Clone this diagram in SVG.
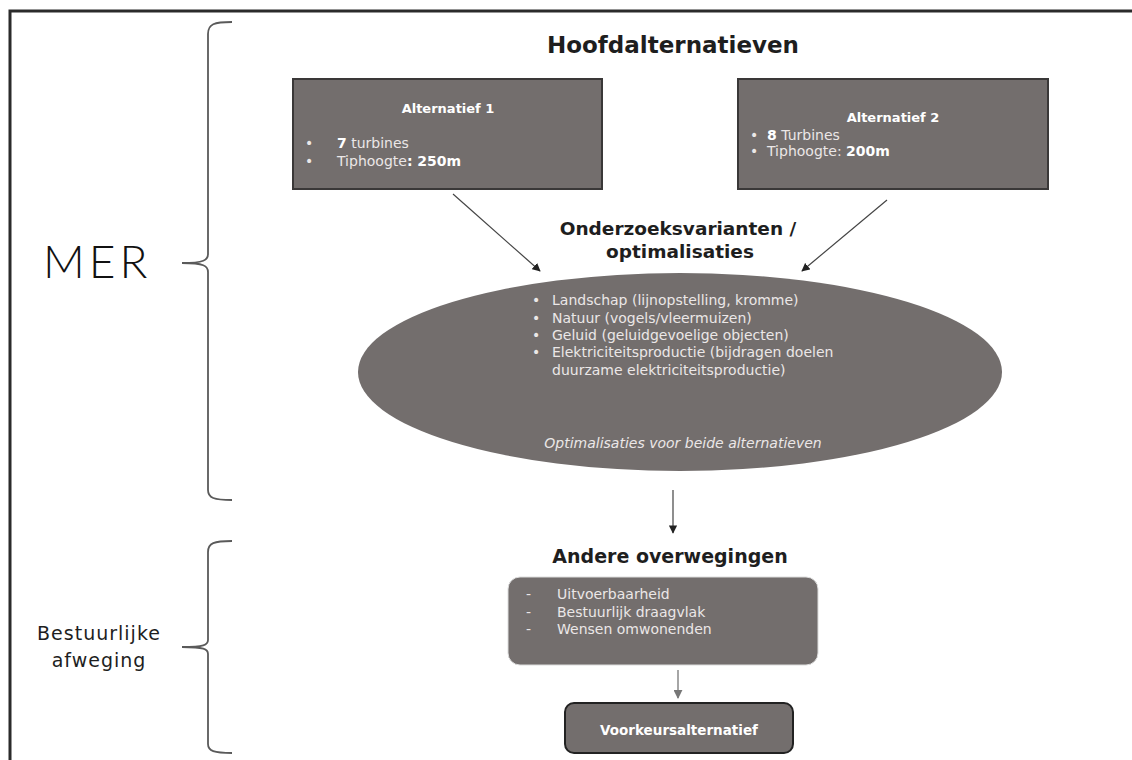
<svg xmlns="http://www.w3.org/2000/svg" width="1132" height="760" viewBox="0 0 1132 760">
  <style>
    .frame { fill: none; stroke: #2b2b2b; stroke-width: 3; }
    .brace { fill: none; stroke: #5a5a5a; stroke-width: 1.8; }
    .box { fill: #736e6d; stroke: #3a3838; stroke-width: 2; }
    .blob { fill: #736e6d; }
    .conn { fill: none; stroke: #444; stroke-width: 1.2; }
    .conn-light { fill: none; stroke: #888; stroke-width: 1.5; }
    .t { font-family: "DejaVu Sans", "Liberation Sans", sans-serif; }
    .side { fill: #1e1e1e; }
    .head { fill: #1e1e1e; font-weight: bold; }
    .w { fill: #ebe7e7; font-size: 14px; }
    .wb { fill: #ffffff; font-weight: bold; }
  </style>
  <defs>
    <marker id="arrow" viewBox="0 0 10 10" refX="9" refY="5" markerWidth="7" markerHeight="7" orient="auto-start-reverse">
      <path d="M0,0 L10,5 L0,10 z" fill="#222"/>
    </marker>
    <marker id="arrowGray" viewBox="0 0 10 10" refX="9" refY="5" markerWidth="6" markerHeight="6" orient="auto-start-reverse">
      <path d="M0,0 L10,5 L0,10 z" fill="#777"/>
    </marker>
  </defs>

  <rect width="1132" height="760" fill="#ffffff"/>

  <!-- outer frame: top and left edges only -->
  <path class="frame" d="M10,760 L10,11 L1132,11"/>

  <!-- side labels with braces -->
  <g id="mer-label">
    <path class="brace" d="M232,22 C214,22 208,24 208,34 L208,254 C208,260 204,263 182,263 C204,263 208,266 208,272 L208,490 C208,498 214,500 232,500"/>
    <text x="43" y="278" font-family="Lato, 'Open Sans', sans-serif" font-size="46" font-weight="300" fill="#111" letter-spacing="4">MER</text>
  </g>
  <g id="bestuurlijk-label">
    <path class="brace" d="M232,541 C214,541 208,543 208,552 L208,640 C208,645 204,647 182,647 C204,647 208,649 208,654 L208,744 C208,751 214,753 232,753"/>
    <text class="t side" x="99" y="640" font-size="19" text-anchor="middle" fill="#333" letter-spacing="1">Bestuurlijke</text>
    <text class="t side" x="99" y="667" font-size="19" text-anchor="middle" fill="#333" letter-spacing="1">afweging</text>
  </g>

  <!-- title -->
  <g id="title">
    <text class="t head" x="673" y="53" font-size="23" text-anchor="middle">Hoofdalternatieven</text>
  </g>

  <!-- alternative 1 -->
  <g id="alt1">
    <rect class="box" x="293" y="79" width="309" height="110"/>
    <text class="t wb" x="448" y="113" font-size="13" text-anchor="middle">Alternatief 1</text>
    <text class="t w" x="305" y="148">•</text>
    <text class="t w" x="337" y="148"><tspan font-weight="bold" fill="#fff">7</tspan> turbines</text>
    <text class="t w" x="305" y="166">•</text>
    <text class="t w" x="337" y="166">Tiphoogte<tspan font-weight="bold" fill="#fff">: 250m</tspan></text>
  </g>

  <!-- alternative 2 -->
  <g id="alt2">
    <rect class="box" x="738" y="79" width="310" height="110"/>
    <text class="t wb" x="893" y="122" font-size="13" text-anchor="middle">Alternatief 2</text>
    <text class="t w" x="750" y="140">•</text>
    <text class="t w" x="767" y="140"><tspan font-weight="bold" fill="#fff">8</tspan> Turbines</text>
    <text class="t w" x="750" y="156">•</text>
    <text class="t w" x="767" y="156">Tiphoogte: <tspan font-weight="bold" fill="#fff">200m</tspan></text>
  </g>

  <!-- research variants -->
  <g id="varianten">
    <text class="t head" x="678" y="235" font-size="18.5" text-anchor="middle">Onderzoeksvarianten /</text>
    <text class="t head" x="680" y="258" font-size="18.5" text-anchor="middle">optimalisaties</text>
    <ellipse class="blob" cx="680" cy="372" rx="322" ry="99"/>
    <g class="t w" font-size="15">
      <text x="532" y="305">•</text>
      <text x="552" y="305">Landschap (lijnopstelling, kromme)</text>
      <text x="532" y="323">•</text>
      <text x="552" y="323">Natuur (vogels/vleermuizen)</text>
      <text x="532" y="340">•</text>
      <text x="552" y="340">Geluid (geluidgevoelige objecten)</text>
      <text x="532" y="357">•</text>
      <text x="552" y="357">Elektriciteitsproductie (bijdragen doelen</text>
      <text x="552" y="375">duurzame elektriciteitsproductie)</text>
    </g>
    <text class="t w" x="683" y="448" font-size="14" font-style="italic" text-anchor="middle">Optimalisaties voor beide alternatieven</text>
  </g>

  <!-- other considerations -->
  <g id="overwegingen">
    <text class="t head" x="670" y="563" font-size="19" text-anchor="middle" fill="#3a3a3a">Andere overwegingen</text>
    <rect class="box" x="508" y="577" width="310" height="88" rx="12" style="stroke:#dcdcdc;stroke-width:1"/>
    <g class="t w" font-size="14">
      <text x="526" y="599">-</text>
      <text x="557" y="599">Uitvoerbaarheid</text>
      <text x="526" y="617">-</text>
      <text x="557" y="617">Bestuurlijk draagvlak</text>
      <text x="526" y="634">-</text>
      <text x="557" y="634">Wensen omwonenden</text>
    </g>
  </g>

  <!-- preferred alternative -->
  <g id="voorkeur">
    <rect class="box" x="565" y="703" width="228" height="50" rx="9" style="stroke:#222"/>
    <text class="t wb" x="679" y="735" font-size="13.5" text-anchor="middle">Voorkeursalternatief</text>
  </g>

  <!-- connectors -->
  <g id="connectors">
    <line class="conn" x1="453" y1="194" x2="540" y2="271" marker-end="url(#arrow)"/>
    <line class="conn" x1="887" y1="200" x2="802" y2="271" marker-end="url(#arrow)"/>
    <line class="conn" x1="673" y1="490" x2="673" y2="533" marker-end="url(#arrow)"/>
    <line class="conn-light" x1="678" y1="670" x2="678" y2="698" marker-end="url(#arrowGray)"/>
  </g>
</svg>
